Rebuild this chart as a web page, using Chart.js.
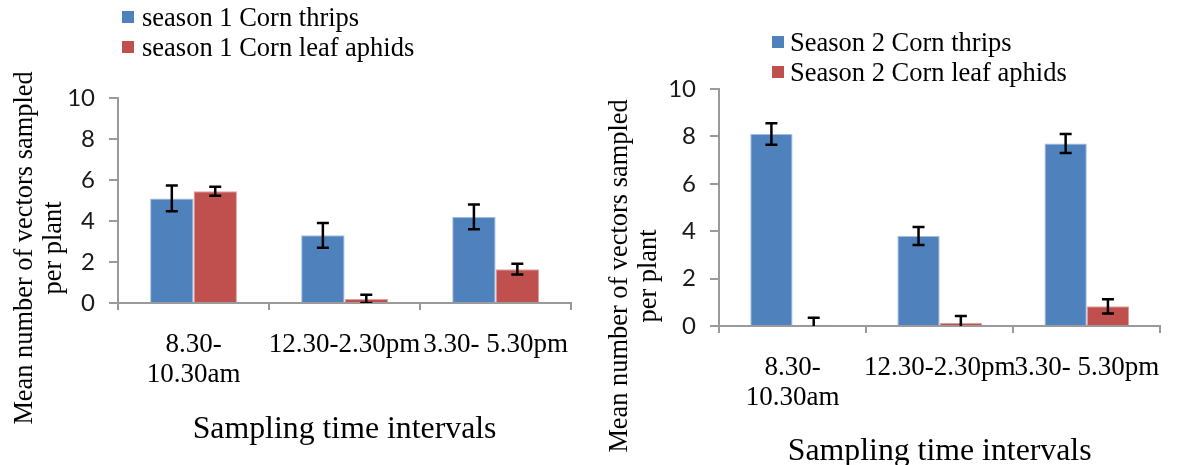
<!DOCTYPE html>
<html>
<head>
<meta charset="utf-8">
<title>Mean number of vectors sampled per plant</title>
<script src="https://cdn.jsdelivr.net/npm/chart.js@4.4.1/dist/chart.umd.min.js"></script>
<style>
  html, body { margin: 0; padding: 0; background: #fff; }
  body { width: 1180px; height: 465px; position: relative; overflow: hidden; }
  .panel { position: absolute; top: 0; width: 590px; height: 465px; }
  .legend { position: absolute; font-family: 'Liberation Serif', 'Times New Roman', serif; font-size: 26.5px; color: #000; }
  .legend .item { display: flex; align-items: center; height: 30px; white-space: nowrap; }
  .legend .box { display: inline-block; width: 12px; height: 12px; }
</style>
</head>
<body>
<div class="panel" style="left:0">
  <canvas id="season1" width="590" height="465"></canvas>
  <div class="legend" id="legend1" style="left:122px; top:2px"></div>
</div>
<div class="panel" style="left:590px">
  <canvas id="season2" width="590" height="465"></canvas>
  <div class="legend" id="legend2" style="left:182px; top:27px"></div>
</div>
<script>
const categories = [['8.30-', '10.30am'], '12.30-2.30pm', '3.30- 5.30pm'];
const yTicks = [0, 2, 4, 6, 8, 10];

// season 1: means and error (+/-)
const s1Thrips = [5.1, 3.3, 4.2];
const s1ThripsErr = [0.63, 0.6, 0.6];
const s1Aphids = [5.45, 0.2, 1.65];
const s1AphidsErr = [0.22, 0.2, 0.26];

// season 2
const s2Thrips = [8.1, 3.8, 7.7];
const s2ThripsErr = [0.45, 0.38, 0.4];
const s2Aphids = [0.05, 0.14, 0.83];
const s2AphidsErr = [0.3, 0.28, 0.3];

const BLUE = '#4F81BD';
const RED = '#C0504D';
const AXIS = '#9a9a9a';
const SERIF = "'Liberation Serif', 'Times New Roman', serif";

// draws the +/- error whiskers on top of every bar
const errorBars = {
  id: 'errorBars',
  afterDatasetsDraw(chart) {
    const { ctx, chartArea, scales: { y } } = chart;
    ctx.save();
    ctx.beginPath();
    ctx.rect(chartArea.left, chartArea.top, chartArea.width, chartArea.height);
    ctx.clip();
    ctx.strokeStyle = '#000';
    ctx.lineWidth = 2.5;
    chart.data.datasets.forEach((ds, i) => {
      chart.getDatasetMeta(i).data.forEach((bar, j) => {
        const hi = y.getPixelForValue(ds.data[j] + ds.errors[j]);
        const lo = y.getPixelForValue(ds.data[j] - ds.errors[j]);
        const x = bar.x;
        ctx.beginPath();
        ctx.moveTo(x, hi); ctx.lineTo(x, lo);
        ctx.moveTo(x - 6, hi); ctx.lineTo(x + 6, hi);
        ctx.moveTo(x - 6, lo); ctx.lineTo(x + 6, lo);
        ctx.stroke();
      });
    });
    ctx.restore();
  }
};

// two-line rotated y axis title (Excel puts it lower than the axis centre)
const yTitle = {
  id: 'yTitle',
  afterDraw(chart, args, opts) {
    const ctx = chart.ctx;
    ctx.save();
    ctx.fillStyle = '#000';
    ctx.font = '26.4px ' + SERIF;
    ctx.textAlign = 'center';
    ctx.textBaseline = 'middle';
    opts.lines.forEach((line, i) => {
      ctx.save();
      ctx.translate(opts.x[i], opts.y);
      ctx.rotate(-Math.PI / 2);
      ctx.fillText(line, 0, 0);
      ctx.restore();
    });
    ctx.restore();
  }
};

function makeChart(id, cfg) {
  return new Chart(document.getElementById(id), {
    type: 'bar',
    data: {
      labels: categories,
      datasets: [
        { label: cfg.names[0], data: cfg.thrips, errors: cfg.thripsErr,
          backgroundColor: BLUE, borderColor: '#a3bde0', borderWidth: 1 },
        { label: cfg.names[1], data: cfg.aphids, errors: cfg.aphidsErr,
          backgroundColor: RED, borderColor: '#e0a09e', borderWidth: 1 }
      ]
    },
    options: {
      responsive: false,
      animation: false,
      layout: { padding: cfg.padding },
      datasets: { bar: { barPercentage: 1, categoryPercentage: 0.575 } },
      plugins: {
        legend: { display: false },
        tooltip: { enabled: false },
        yTitle: cfg.yTitle
      },
      scales: {
        x: {
          grid: {
            offset: true,
            drawOnChartArea: false,
            color: c => c.index === categories.length ? 'rgba(0,0,0,0)' : AXIS,
            lineWidth: 2,
            tickLength: 7
          },
          border: { color: AXIS, width: 2 },
          ticks: {
            color: '#000',
            font: { family: SERIF, size: 27, lineHeight: 1.12 },
            padding: 20,
            maxRotation: 0,
            autoSkip: false
          },
          title: {
            display: true,
            text: 'Sampling time intervals',
            color: '#000',
            font: { family: SERIF, size: 31.8, lineHeight: 1 },
            padding: { top: 0, bottom: cfg.xTitlePad }
          },
          afterFit: s => { s.height = cfg.xHeight; }
        },
        y: {
          min: yTicks[0],
          max: yTicks[yTicks.length - 1],
          afterBuildTicks: s => { s.ticks = yTicks.map(v => ({ value: v })); },
          grid: { drawOnChartArea: false, color: AXIS, lineWidth: 2, tickLength: 9 },
          border: { color: AXIS, width: 2 },
          ticks: { color: '#1a1a1a', font: { family: 'Lato', size: 24 }, padding: 14 },
          afterFit: s => { s.width = cfg.yWidth; }
        }
      }
    },
    plugins: [errorBars, yTitle]
  });
}

function buildLegend(el, chart, gap) {
  chart.data.datasets.forEach(ds => {
    const item = document.createElement('div');
    item.className = 'item';
    const box = document.createElement('span');
    box.className = 'box';
    box.style.background = ds.backgroundColor;
    box.style.marginRight = gap + 'px';
    item.appendChild(box);
    item.appendChild(document.createTextNode(ds.label));
    el.appendChild(item);
  });
}

const yTitleLines = ['Mean number of vectors sampled', 'per plant'];

const chart1 = makeChart('season1', {
  names: ['season 1 Corn thrips', 'season 1 Corn leaf aphids'],
  thrips: s1Thrips, thripsErr: s1ThripsErr,
  aphids: s1Aphids, aphidsErr: s1AphidsErr,
  padding: { top: 98, right: 12, bottom: 0, left: 0 },
  yWidth: 118, xHeight: 162, xTitlePad: 19,
  yTitle: { lines: yTitleLines, x: [25, 54], y: 248 }
});

const chart2 = makeChart('season2', {
  names: ['Season 2 Corn thrips', 'Season 2 Corn leaf aphids'],
  thrips: s2Thrips, thripsErr: s2ThripsErr,
  aphids: s2Aphids, aphidsErr: s2AphidsErr,
  padding: { top: 89, right: 5, bottom: 0, left: 0 },
  yWidth: 129, xHeight: 139, xTitlePad: -3,
  yTitle: { lines: yTitleLines, x: [30, 59], y: 276 }
});

buildLegend(document.getElementById('legend1'), chart1, 8);
buildLegend(document.getElementById('legend2'), chart2, 6);
</script>
</body>
</html>
